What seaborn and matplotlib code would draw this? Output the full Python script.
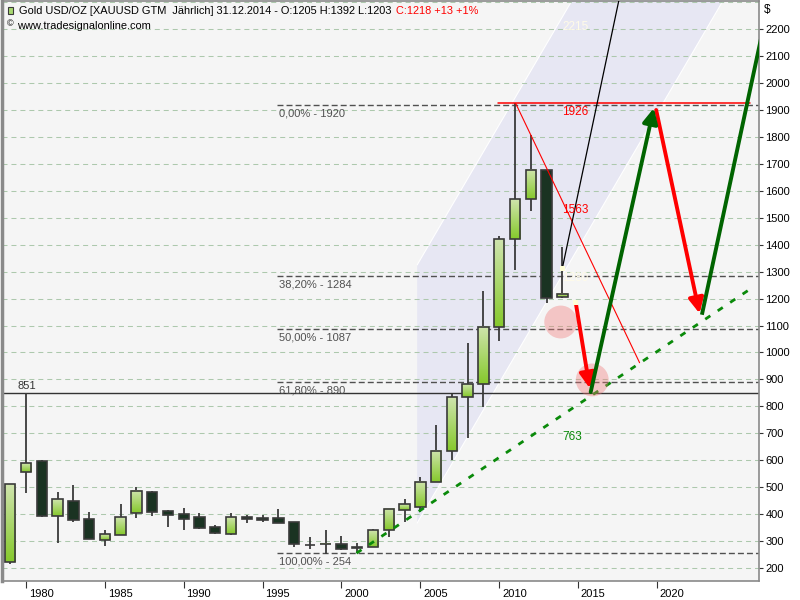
import numpy as np
import pandas as pd
import matplotlib
matplotlib.use("Agg")
import matplotlib.pyplot as plt
import matplotlib.transforms as mtransforms
from matplotlib.patches import Polygon, Rectangle
from matplotlib.colors import LinearSegmentedColormap
import seaborn as sns

# ---------------- data ----------------
years = list(range(1979, 2015))
opens = [223, 557, 598, 394, 447, 381, 303, 324, 403, 481, 413, 400, 389, 352, 327, 389, 386, 384,
         371, 287, 288, 288, 277, 277, 340, 414, 425, 518, 636, 834, 882, 1096, 1423, 1568, 1677, 1205]
highs = [512, 851, 601, 481, 508, 407, 341, 438, 502, 486, 415, 423, 404, 358, 404, 397, 397, 418,
         371, 314, 341, 318, 294, 346, 418, 456, 537, 731, 845, 1034, 1228, 1433, 1925, 1807, 1677, 1392]
lows = [215, 479, 390, 294, 371, 306, 282, 323, 387, 394, 353, 342, 344, 327, 324, 366, 370, 368,
        279, 269, 251, 267, 257, 277, 316, 372, 407, 518, 601, 681, 799, 1044, 1306, 1526, 1184, 1203]
closes = [511, 588, 394, 455, 379, 307, 325, 388, 485, 409, 398, 383, 350, 331, 388, 381, 379, 368,
          288, 287, 289, 269, 274, 340, 418, 436, 518, 636, 834, 882, 1096, 1421, 1569, 1677, 1204, 1218]

fib_labels = ["0,00%", "38,20%", "50,00%", "61,80%", "100,00%"]
fib_values = [1920, 1284, 1087, 890, 254]
fib_start = 1995.9

level_851 = 851

trend_x = [2000.95, 2025.8]
trend_y = [255, 1231]

chan_x0 = 2004.8
chan_lower = 367
chan_upper = 1325
chan_slope = 100  # per year

red_line_x = [2011.05, 2018.9]
red_line_y = [1924, 962]
red_hline_x = [2009.95, 2025.9]
red_hline_y = 1926

black_line_x = [2014.0, 2018.0]
black_line_y = [1312, 2422]

red_arrows = [((2014.85, 1186), (2015.74, 867)), ((2019.95, 1900), (2022.7, 1145))]
green_arrow1 = ((2015.8, 853), (2019.8, 1907))
green_arrow2_x = [2022.85, 2026.7]
green_arrow2_y = [1140, 2193]

circles_x = [2013.9, 2015.9]
circles_y = [1113, 898]

marker_x = [2014.0, 2014.85]
marker_y = [1312, 1186]

label_col_x = 2014.0
red_labels = [("1926", 1926), ("1563", 1563)]
pale_labels = [("2215", 2215), ("1280", 1280)]
green_label = ("763", 763)

title_main = "Gold USD/OZ [XAUUSD GTM  Jährlich] 31.12.2014 - O:1205 H:1392 L:1203 "
title_red = "C:1218 +13 +1%"
source_text = "www.tradesignalonline.com"

yticks = list(range(200, 2201, 100))
xticks = [1980, 1985, 1990, 1995, 2000, 2005, 2010, 2015, 2020]

# ---------------- style ----------------
sns.set_theme(style="white")
plt.rcParams['font.family'] = ['Liberation Sans', 'DejaVu Sans']

W, H = 800, 600
fig = plt.figure(figsize=(8, 6), dpi=100, facecolor='white')
ax = fig.add_axes([2 / W, 19 / H, 757 / W, 580 / H])
ax.set_facecolor('#f5f5f5')
XL = (1978.48, 2026.47)
YL = (151.7, 2304.6)

# regression channel
chan = Polygon([(chan_x0, chan_lower), (chan_x0, chan_upper),
                (chan_x0 + 25, chan_upper + 25 * chan_slope),
                (chan_x0 + 25, chan_lower + 25 * chan_slope)],
               closed=True, facecolor='#e7e7f3', edgecolor='none', zorder=1)
ax.add_patch(chan)
for base in (chan_lower, chan_upper):
    ax.plot([chan_x0, chan_x0 + 25], [base, base + 25 * chan_slope], color='white', lw=0.8, zorder=1.1)

# grid
for v in list(range(200, 2301, 100)):
    ax.axhline(v, color='#adc8ad', lw=0.75, ls=(0, (4.8, 3.8)), zorder=1.5)

# fib levels
for lab, v in zip(fib_labels, fib_values):
    ax.plot([fib_start, XL[1] + 1], [v, v], color='#505050', lw=1.0, ls=(0, (4.3, 2.2)), zorder=2)
    ax.annotate(f"{lab} - {v}", xy=(fib_start, v), xytext=(1.5, -2.5), textcoords='offset points',
                ha='left', va='top', fontsize=8, color='#505050', zorder=5)

# 851 line
ax.axhline(level_851, color='#333333', lw=1.0, zorder=2)
ax.annotate(str(level_851), xy=(XL[0], level_851), xytext=(11, 1.5), textcoords='offset points',
            ha='left', va='bottom', fontsize=8, color='#333333')

# green dashed trend
sns.lineplot(x=trend_x, y=trend_y, ax=ax, color='#0a8a0a', lw=2.0, zorder=4)
ax.lines[-1].set_linestyle((0, (2.2, 3.2)))

# candles
df = pd.DataFrame(dict(year=years, o=opens, h=highs, l=lows, c=closes))
bw = 0.66
ax.vlines(df.year, df.l, df.h, color='#3a3a3a', lw=1.3, zorder=2.8)
green_cmap = LinearSegmentedColormap.from_list('g', ['#86c92c', '#cfe4ad'])
grad = np.linspace(0, 1, 64).reshape(-1, 1)
for _, r in df.iterrows():
    lo, hi = min(r.o, r.c), max(r.o, r.c)
    up = r.c >= r.o
    if up:
        ax.imshow(grad, extent=[r.year - bw / 2, r.year + bw / 2, lo, hi], origin='lower',
                  aspect='auto', cmap=green_cmap, zorder=3, interpolation='bilinear')
        ax.bar(r.year, max(hi - lo, 0.1), bottom=lo, width=bw, facecolor='none',
               edgecolor='#3a3a3a', lw=1.2, zorder=3.1)
    else:
        ax.bar(r.year, max(hi - lo, 0.1), bottom=lo, width=bw, facecolor='#1a3322',
               edgecolor='#3a3a3a', lw=1.2, zorder=3.1)

# red thin line and horizontal
ax.plot(red_line_x, red_line_y, color='#ff0000', lw=0.8, zorder=4)
ax.plot(red_hline_x, [red_hline_y] * 2, color='#ff0000', lw=1.1, zorder=4)

# black line
ax.plot(black_line_x, black_line_y, color='black', lw=0.9, zorder=4)

# pink circles
ax.scatter(circles_x, circles_y, s=560, color='#f07878', alpha=0.38, edgecolors='none', zorder=4.2)

# arrows
for (s, e) in red_arrows:
    ax.annotate("", xy=e, xytext=s,
                arrowprops=dict(arrowstyle="-|>,head_length=0.9,head_width=0.45", lw=2.8,
                                color='#ff0000', shrinkA=0, shrinkB=0, mutation_scale=10), zorder=5)
ax.annotate("", xy=green_arrow1[1], xytext=green_arrow1[0],
            arrowprops=dict(arrowstyle="-|>,head_length=0.9,head_width=0.45", lw=2.8,
                            color='#006400', shrinkA=0, shrinkB=0, mutation_scale=10), zorder=5)
ax.plot(green_arrow2_x, green_arrow2_y, color='#006400', lw=2.8, zorder=5, solid_capstyle='butt')

# small markers
ax.scatter(marker_x, marker_y, s=14, marker='s', color='#ffffd8', edgecolors='none', zorder=5.5)

# labels in column
for t, v in red_labels:
    ax.annotate(t, xy=(label_col_x, v), xytext=(0, -6.5), textcoords='offset points',
                ha='left', va='center', fontsize=8.5, color='#ff0000', zorder=6)
for t, v in pale_labels:
    ax.annotate(t, xy=(label_col_x, v), xytext=(0, -1), textcoords='offset points',
                ha='left', va='center', fontsize=8.5, color='#fffbe8', zorder=6)
ax.annotate(green_label[0], xy=(label_col_x, green_label[1]), xytext=(0, -15), textcoords='offset points',
            ha='left', va='center', fontsize=8.5, color='#0a8a0a', zorder=6)

# axes
ax.set_xlim(*XL)
ax.set_ylim(*YL)
ax.yaxis.tick_right()
ax.set_yticks(yticks)
ax.set_yticklabels([str(v) for v in yticks], fontsize=8, color='black')
ax.tick_params(axis='y', which='both', right=True, left=False, length=3.2, width=0.8,
               color='#333333', pad=1.5, direction='out')
ax.set_xticks(xticks)
ax.set_xticklabels([str(v) for v in xticks], fontsize=8, color='black', ha='left')
ax.tick_params(axis='x', bottom=True, length=5, width=0.8, color='#333333', pad=0.5, direction='out')
offs = mtransforms.ScaledTranslation(2 / 72, 0, fig.dpi_scale_trans)
for lbl in ax.get_xticklabels():
    lbl.set_transform(lbl.get_transform() + offs)
for side, sp in ax.spines.items():
    sp.set_visible(True)
    sp.set_color('#8a8a8a')
    sp.set_linewidth(1.2)
ax.spines['left'].set_linewidth(2.5)
ax.set_xlabel("")
ax.set_ylabel("")

# header texts
fig.text(764 / W, 1 - 10 / H, "$", fontsize=8.5, ha='left', va='center', color='black')
# small candle icon
fig.add_artist(Rectangle((8 / W, 1 - 14 / H), 5 / W, 7 / H, transform=fig.transFigure,
                         facecolor='#a8d870', edgecolor='#3a3a3a', lw=0.8))
fig.add_artist(plt.Line2D([10.5 / W, 10.5 / W], [1 - 17 / H, 1 - 5 / H], transform=fig.transFigure,
                          color='#3a3a3a', lw=0.8, zorder=0))
t1 = fig.text(19 / W, 1 - 11 / H, title_main, fontsize=7.9, ha='left', va='center', color='black')
fig.canvas.draw()
bb = t1.get_window_extent(renderer=fig.canvas.get_renderer())
fig.text(bb.x1 / W + 2 / W, 1 - 11 / H, title_red, fontsize=7.9, ha='left', va='center', color='#ff0000')
fig.text(7 / W, 1 - 24 / H, "©", fontsize=6.5, ha='left', va='center', color='black')
fig.text(17 / W, 1 - 26 / H, source_text, fontsize=7.9, ha='left', va='center', color='black')

fig.savefig("out.png", dpi=100, facecolor='white')
